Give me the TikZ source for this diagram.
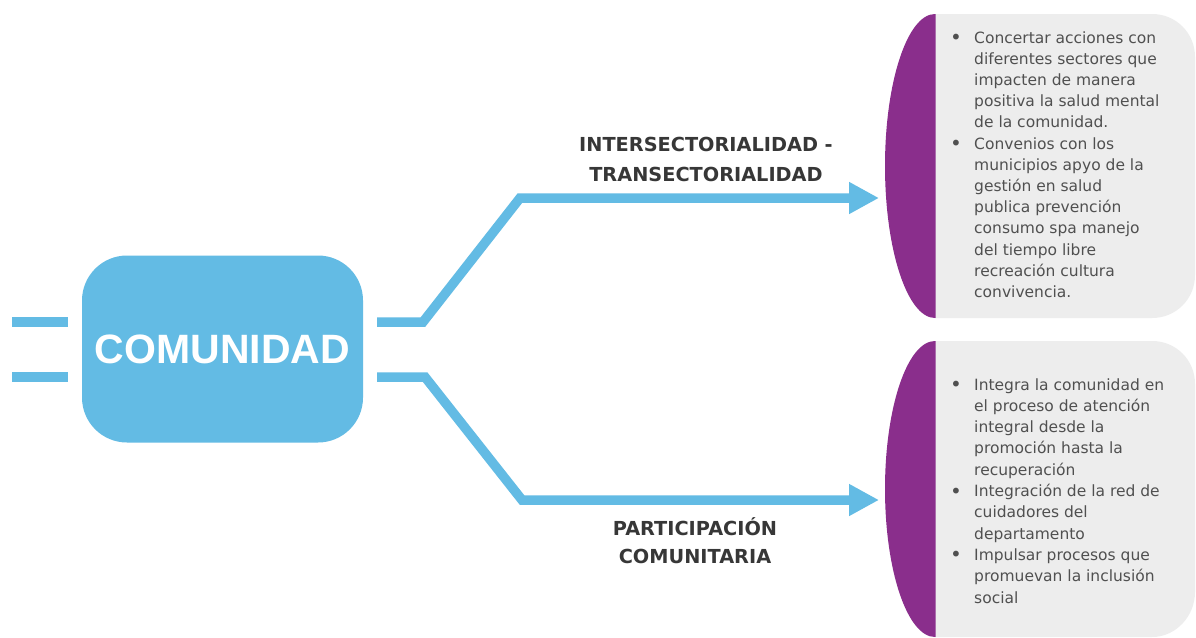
\documentclass[tikz,border=0pt]{standalone}
\usepackage{fontspec}
\setmainfont{DejaVu Sans}
\newfontfamily\arialfont{Liberation Sans}
\usetikzlibrary{arrows.meta}
\definecolor{cblue}{RGB}{99,187,228}
\definecolor{cpurple}{RGB}{138,46,140}
\definecolor{cgrey}{RGB}{237,237,237}
\definecolor{ctext}{RGB}{80,80,80}
\definecolor{clabel}{RGB}{55,55,55}
\newcommand{\bul}{\makebox[24pt][l]{\raisebox{-1.5pt}{\fontsize{20}{20}\selectfont\textbullet}}}
\newcommand{\nob}{\makebox[24pt][l]{}}
\begin{document}
\begin{tikzpicture}[x=1pt,y=-1pt,
  conn/.style={cblue, line width=9.5pt, line join=miter},
  arr/.style={conn, -{Triangle[length=30pt,width=30pt]}},
  centerbox/.style={fill=cblue, rounded corners=45pt, minimum width=281pt, minimum height=187pt, text=white, font=\arialfont\bfseries\fontsize{41}{41}\selectfont, inner sep=0pt},
  branchlabel/.style={text=clabel, font=\bfseries\fontsize{19.3}{#1}\selectfont, inner sep=0pt, anchor=base},
  bodytext/.style={text=ctext, font=\fontsize{15.5}{#1}\selectfont, inner sep=0pt, anchor=base west},
]
\useasboundingbox (0,0) rectangle (1196,637);
\fill[white] (0,0) rectangle (1196,637);

% central node
\node[centerbox] (c) at (222.5,349) {COMUNIDAD};

% left stubs
\coordinate (l1a) at (12,322);
\coordinate (l1b) at (68,322);
\coordinate (l2a) at (12,377);
\coordinate (l2b) at (68,377);
\draw[conn] (l1a) -- (l1b);
\draw[conn] (l2a) -- (l2b);

% right connectors
\coordinate (u0) at (377,322);
\coordinate (u1) at (423,322);
\coordinate (u2) at (520,198);
\coordinate (u3) at (879,198);
\coordinate (d0) at (377,377);
\coordinate (d1) at (425,377);
\coordinate (d2) at (522,500);
\coordinate (d3) at (879,500);
\draw[arr] (u0) -- (u1) -- (u2) -- (u3);
\draw[arr] (d0) -- (d1) -- (d2) -- (d3);

% branch labels
\node[branchlabel=30pt] (lab1) at (706,151.5) {\begin{tabular}[t]{@{}c@{}}INTERSECTORIALIDAD -\\TRANSECTORIALIDAD\end{tabular}};
\node[branchlabel=28pt] (lab2) at (695,535) {\begin{tabular}[t]{@{}c@{}}PARTICIPACIÓN\\COMUNITARIA\end{tabular}};

% box 1
\fill[cgrey] (935,14) -- (1152,14) .. controls (1176,14) and (1195,33) .. (1195,57)
  -- (1195,275) .. controls (1195,299) and (1176,318) .. (1152,318) -- (935,318) -- cycle;
\begin{scope}
  \clip (880,0) rectangle (935.5,637);
  \fill[cpurple] (935,166) ellipse (50 and 152);
\end{scope}
\node[bodytext=21.2pt] (t1) at (950,43) {\begin{tabular}[t]{@{}l@{}l@{}}
\bul & Concertar acciones con\\
\nob & diferentes sectores que\\
\nob & impacten de manera\\
\nob & positiva la salud mental\\
\nob & de la comunidad.\\
\bul & Convenios con los\\
\nob & municipios apyo de la\\
\nob & gestión en salud\\
\nob & publica prevención\\
\nob & consumo spa manejo\\
\nob & del tiempo libre\\
\nob & recreación cultura\\
\nob & convivencia.
\end{tabular}};

% box 2
\fill[cgrey] (935,341) -- (1152,341) .. controls (1176,341) and (1195,360) .. (1195,384)
  -- (1195,592) .. controls (1195,616) and (1176,637) .. (1152,637) -- (935,637) -- cycle;
\begin{scope}
  \clip (880,0) rectangle (935.5,637);
  \fill[cpurple] (935,489) ellipse (50 and 148);
\end{scope}
\node[bodytext=21.3pt] (t2) at (950,390) {\begin{tabular}[t]{@{}l@{}l@{}}
\bul & Integra la comunidad en\\
\nob & el proceso de atención\\
\nob & integral desde la\\
\nob & promoción hasta la\\
\nob & recuperación\\
\bul & Integración de la red de\\
\nob & cuidadores del\\
\nob & departamento\\
\bul & Impulsar procesos que\\
\nob & promuevan la inclusión\\
\nob & social
\end{tabular}};
\end{tikzpicture}
\end{document}
